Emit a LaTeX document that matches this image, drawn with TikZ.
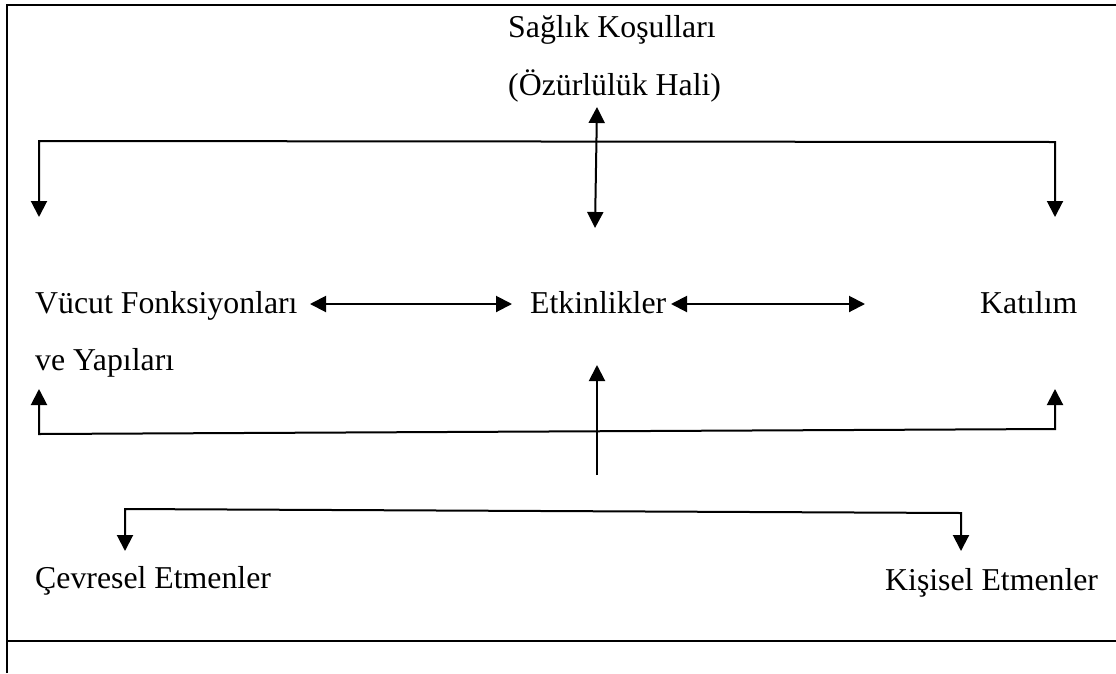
\documentclass[tikz,border=0pt]{standalone}
\usepackage{fontspec}
\setmainfont{Liberation Serif}
\usetikzlibrary{arrows.meta}
\begin{document}
\begin{tikzpicture}[x=1pt,y=-1pt,
  lbl/.style={anchor=base west,inner sep=0pt,font=\fontsize{31.8}{36}\selectfont},
  ln/.style={line width=2pt,line join=miter},
  arr/.style={ln,-{Triangle[width=16pt,length=16pt]}},
  darr/.style={ln,{Triangle[width=16pt,length=16pt]}-{Triangle[width=16pt,length=16pt]}}]
\useasboundingbox (0,0) rectangle (1116,673);
% frame
\draw[ln] (7,673) -- (7,5) -- (1116,5);
\draw[ln] (7,641) -- (1116,641);
% texts
\node[lbl] (sk) at (508,37) {Sağlık Koşulları};
\node[lbl] (oh) at (508,95) {(Özürlülük Hali)};
\node[lbl] (vf) at (35,313) {Vücut Fonksiyonları};
\node[lbl] (vy) at (35,370) {ve Yapıları};
\node[lbl] (et) at (530,313) {Etkinlikler};
\node[lbl] (ka) at (980,313) {Katılım};
\node[lbl] (ce) at (35,588) {Çevresel Etmenler};
\node[lbl] (ki) at (885,590) {Kişisel Etmenler};
% connector endpoints
\coordinate (tL) at (39,217); \coordinate (cTL) at (39,141);
\coordinate (cTR) at (1055,142); \coordinate (tR) at (1055,217);
\coordinate (vTop) at (597,107); \coordinate (vBot) at (595,228);
\coordinate (a1) at (310,304); \coordinate (a2) at (512,304);
\coordinate (b1) at (671,304); \coordinate (b2) at (865,304);
\coordinate (uL) at (39,389); \coordinate (cUL) at (39,434);
\coordinate (cUR) at (1055,429); \coordinate (uR) at (1055,389);
\coordinate (mS) at (597,475); \coordinate (mT) at (597,365);
\coordinate (dL) at (125,551); \coordinate (cDL) at (125,509);
\coordinate (cDR) at (961,513); \coordinate (dR) at (961,551);
% connectors
\draw[darr] (tL) -- (cTL) -- (cTR) -- (tR);
\draw[darr] (vTop) -- (vBot);
\draw[darr] (a1) -- (a2);
\draw[darr] (b1) -- (b2);
\draw[darr] (uL) -- (cUL) -- (cUR) -- (uR);
\draw[arr] (mS) -- (mT);
\draw[darr] (dL) -- (cDL) -- (cDR) -- (dR);
\end{tikzpicture}
\end{document}
